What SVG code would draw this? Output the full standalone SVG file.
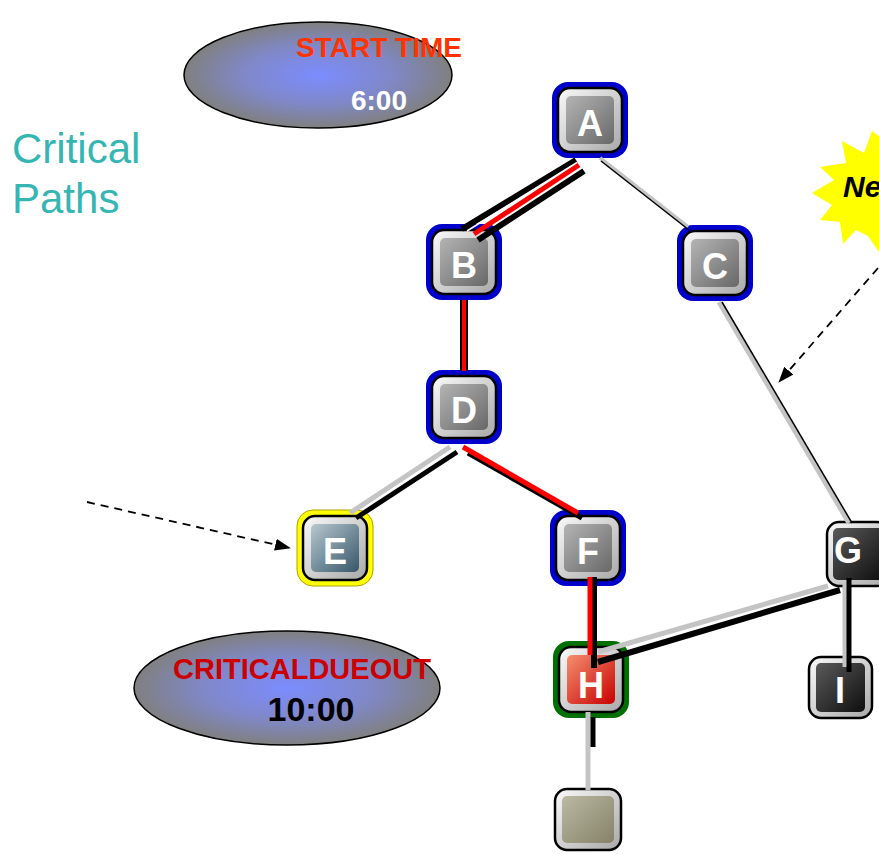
<svg xmlns="http://www.w3.org/2000/svg" width="879" height="854" viewBox="0 0 879 854">
  <defs>
    <radialGradient id="ovalFill" cx="50%" cy="50%" r="50%">
      <stop offset="0" stop-color="#7b8cff"/>
      <stop offset="0.55" stop-color="#8088c8"/>
      <stop offset="1" stop-color="#808080"/>
    </radialGradient>
    <linearGradient id="frame" x1="0" y1="0" x2="1" y2="1">
      <stop offset="0" stop-color="#fafafa"/>
      <stop offset="1" stop-color="#a8a8a8"/>
    </linearGradient>
    <linearGradient id="grayFace" x1="0" y1="0" x2="1" y2="1">
      <stop offset="0" stop-color="#b4b4b4"/>
      <stop offset="1" stop-color="#686868"/>
    </linearGradient>
    <linearGradient id="slateFace" x1="0" y1="0" x2="1" y2="1">
      <stop offset="0" stop-color="#b8c8d0"/>
      <stop offset="1" stop-color="#36566a"/>
    </linearGradient>
    <linearGradient id="redFace" x1="0" y1="0" x2="1" y2="1">
      <stop offset="0" stop-color="#f49070"/>
      <stop offset="1" stop-color="#c80000"/>
    </linearGradient>
    <linearGradient id="darkFace" x1="0" y1="0" x2="1" y2="1">
      <stop offset="0" stop-color="#5a5a5a"/>
      <stop offset="1" stop-color="#0e0e0e"/>
    </linearGradient>
    <linearGradient id="khakiFace" x1="0" y1="0" x2="1" y2="1">
      <stop offset="0" stop-color="#bcb9a4"/>
      <stop offset="1" stop-color="#858268"/>
    </linearGradient>
    <marker id="arrow" viewBox="0 0 16 12" refX="15" refY="6" markerWidth="16" markerHeight="12" markerUnits="userSpaceOnUse" orient="auto">
      <path d="M0,0 L16,6 L0,12 Z" fill="#000"/>
    </marker>
    <style>
      .ring { stroke: none; }
      .frame { fill: url(#frame); stroke: #000; stroke-width: 2.5; }
      .letter { font-family: "Liberation Sans", Arial, sans-serif; font-weight: bold; font-size: 36px; fill: #fff; text-anchor: middle; }
      .oval { fill: url(#ovalFill); stroke: #000; stroke-width: 1.5; }
      .lbl { font-family: "Liberation Sans", Arial, sans-serif; font-weight: bold; text-anchor: middle; }
      .blk { stroke: #000; fill: none; }
      .gry { stroke: #c4c4c4; fill: none; }
      .red { stroke: #ff0000; fill: none; }
      .dash { stroke: #000; stroke-width: 1.8; stroke-dasharray: 8 6; fill: none; marker-end: url(#arrow); }
    </style>
  </defs>

  <rect width="879" height="854" fill="#fff"/>

  <!-- title -->
  <g id="title" font-family="'Liberation Sans', Arial, sans-serif" font-size="42" fill="#36b6b2">
    <text x="12" y="163">Critical</text>
    <text x="12" y="213">Paths</text>
  </g>

  <!-- start time oval -->
  <g id="start-time">
    <ellipse class="oval" cx="318" cy="75" rx="134" ry="53"/>
    <text class="lbl" x="379" y="57" font-size="28" fill="#ff3300">START TIME</text>
    <text class="lbl" x="379" y="110" font-size="28" fill="#fff">6:00</text>
  </g>

  <!-- critical due-out oval -->
  <g id="critical-dueout">
    <ellipse class="oval" cx="287" cy="688" rx="153" ry="57"/>
    <text class="lbl" x="302" y="679" font-size="29" fill="#cc0000">CRITICALDUEOUT</text>
    <text class="lbl" x="311" y="721" font-size="34" fill="#000">10:00</text>
  </g>

  <!-- starburst callout -->
  <g id="callout">
    <polygon fill="#ffff00" points="900,108 884,140 872,131 864,153 842,141 846,163 820,167 834,180 812,193 832,205 820,220 840,222 843,244 856,230 868,236 879,252 905,262 930,190"/>
    <text x="843" y="197" font-family="'Liberation Sans', Arial, sans-serif" font-weight="bold" font-style="italic" font-size="30" fill="#000">Ne</text>
  </g>

  <!-- task nodes -->
  <g id="node-A">
    <rect class="ring" x="552" y="82" width="76" height="76" rx="16" fill="#0000cc"/>
    <rect class="frame" x="558" y="88" width="64" height="64" rx="12"/>
    <rect x="566" y="96" width="48" height="48" rx="5" fill="url(#grayFace)"/>
    <text class="letter" x="590" y="136">A</text>
  </g>
  <g id="node-B">
    <rect class="ring" x="426" y="224" width="76" height="76" rx="16" fill="#0000cc"/>
    <rect class="frame" x="432" y="230" width="64" height="64" rx="12"/>
    <rect x="440" y="238" width="48" height="48" rx="5" fill="url(#grayFace)"/>
    <text class="letter" x="464" y="278">B</text>
  </g>
  <g id="node-C">
    <rect class="ring" x="677" y="225" width="76" height="76" rx="16" fill="#0000cc"/>
    <rect class="frame" x="683" y="231" width="64" height="64" rx="12"/>
    <rect x="691" y="239" width="48" height="48" rx="5" fill="url(#grayFace)"/>
    <text class="letter" x="715" y="279">C</text>
  </g>
  <g id="node-D">
    <rect class="ring" x="426" y="370" width="76" height="74" rx="16" fill="#0000cc"/>
    <rect class="frame" x="432" y="376" width="64" height="62" rx="12"/>
    <rect x="440" y="384" width="48" height="46" rx="5" fill="url(#grayFace)"/>
    <text class="letter" x="464" y="423">D</text>
  </g>
  <g id="node-E">
    <rect x="297" y="510" width="76" height="76" rx="16" fill="#ffff00" stroke="#b0a000" stroke-width="1"/>
    <rect class="frame" x="303" y="516" width="64" height="64" rx="12"/>
    <rect x="311" y="524" width="48" height="48" rx="5" fill="url(#slateFace)"/>
    <text class="letter" x="335" y="564">E</text>
  </g>
  <g id="node-F">
    <rect class="ring" x="550" y="510" width="76" height="76" rx="16" fill="#0000cc"/>
    <rect class="frame" x="556" y="516" width="64" height="64" rx="12"/>
    <rect x="564" y="524" width="48" height="48" rx="5" fill="url(#grayFace)"/>
    <text class="letter" x="588" y="564">F</text>
  </g>
  <g id="node-G">
    <rect class="frame" x="827" y="522" width="62" height="64" rx="12"/>
    <rect x="833" y="528" width="50" height="52" rx="5" fill="url(#darkFace)"/>
    <text class="letter" x="848" y="563">G</text>
  </g>
  <g id="node-H">
    <rect class="ring" x="553" y="641" width="76" height="77" rx="16" fill="#007000"/>
    <rect class="frame" x="559" y="647" width="64" height="65" rx="12"/>
    <rect x="567" y="655" width="48" height="49" rx="5" fill="url(#redFace)"/>
    <text class="letter" x="591" y="698">H</text>
  </g>
  <g id="node-I">
    <rect class="frame" x="809" y="657" width="63" height="61" rx="12"/>
    <rect x="816" y="663" width="49" height="49" rx="5" fill="url(#darkFace)"/>
    <text class="letter" x="840" y="703">I</text>
  </g>
  <g id="node-J">
    <rect class="frame" x="555" y="789" width="66" height="61" rx="12"/>
    <rect x="562" y="796" width="52" height="47" rx="5" fill="url(#khakiFace)"/>
  </g>

  <!-- connectors -->
  <g id="connectors">
    <!-- A to B -->
    <line class="blk" x1="462" y1="229" x2="576" y2="160" stroke-width="6"/>
    <line x1="467" y1="231" x2="577" y2="162.5" stroke="#fff" stroke-width="1.5"/>
    <line class="red" x1="474" y1="234" x2="579" y2="165" stroke-width="5"/>
    <line class="blk" x1="478" y1="240" x2="584" y2="171" stroke-width="6"/>
    <!-- A to C -->
    <line class="gry" x1="600" y1="158" x2="688" y2="227" stroke-width="4"/>
    <line class="blk" x1="601" y1="161" x2="689" y2="230" stroke-width="1.5"/>
    <!-- B to D -->
    <line class="blk" x1="464" y1="300" x2="464" y2="371" stroke-width="8"/>
    <line class="red" x1="464" y1="300" x2="464" y2="371" stroke-width="4"/>
    <!-- C to G -->
    <line class="gry" x1="719" y1="302" x2="849" y2="523" stroke-width="5"/>
    <line class="blk" x1="722" y1="302" x2="852" y2="523" stroke-width="1.5"/>
    <!-- D to E -->
    <line class="gry" x1="450" y1="447" x2="350" y2="513" stroke-width="5"/>
    <line class="blk" x1="457" y1="452" x2="356" y2="518" stroke-width="5"/>
    <!-- D to F -->
    <line class="blk" x1="468" y1="453" x2="582" y2="518" stroke-width="5"/>
    <line class="red" x1="463" y1="447" x2="578" y2="513" stroke-width="5"/>
    <!-- F to H -->
    <line class="blk" x1="594" y1="577" x2="594" y2="668" stroke-width="6"/>
    <line class="red" x1="590" y1="577" x2="590" y2="655" stroke-width="5"/>
    <!-- H to G -->
    <line class="gry" x1="598" y1="652" x2="828" y2="586" stroke-width="5"/>
    <line class="blk" x1="598" y1="662" x2="840" y2="590" stroke-width="6"/>
    <!-- G to I -->
    <line class="gry" x1="845" y1="583" x2="845" y2="667" stroke-width="5"/>
    <line class="blk" x1="849" y1="578" x2="849" y2="672" stroke-width="5"/>
    <!-- H to J -->
    <line class="gry" x1="588" y1="712" x2="588" y2="790" stroke-width="5"/>
    <line class="blk" x1="593" y1="717" x2="593" y2="747" stroke-width="5"/>
    <!-- pointer arrows -->
    <line class="dash" x1="87" y1="502" x2="290" y2="548"/>
    <line class="dash" x1="878" y1="268" x2="779" y2="382"/>
  </g>
</svg>
